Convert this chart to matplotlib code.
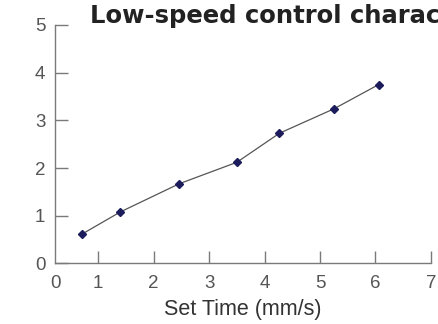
import matplotlib
matplotlib.use("Agg")
import matplotlib.pyplot as plt

# data
set_time = [0.70, 1.40, 2.46, 3.50, 4.27, 5.25, 6.06]
speed = [0.61, 1.08, 1.67, 2.12, 2.73, 3.24, 3.75]
x_ticks = [0.22, 1, 2, 3, 4, 5, 6, 7]
x_labels = ["0", "1", "2", "3", "4", "5", "6", "7"]
y_ticks = [0, 1, 2, 3, 4, 5]

plt.rcParams['font.family'] = ['Liberation Sans', 'DejaVu Sans']

fig = plt.figure(figsize=(4.38, 3.24), dpi=100)
ax = fig.add_axes([0.1256, 0.187, 0.858, 0.736])

ax.plot(set_time, speed, color="#555555", lw=0.9, zorder=2)
ax.plot(set_time, speed, ls="none", marker="D", ms=4.5, color="#1c1c5c",
        mec="#1c1c5c", zorder=3)

ax.set_xlim(0.22, 7)
ax.set_ylim(0, 5)
ax.set_xticks(x_ticks)
ax.set_xticklabels(x_labels)
ax.set_yticks(y_ticks)

for s in ["top", "right"]:
    ax.spines[s].set_visible(False)
for s in ["left", "bottom"]:
    ax.spines[s].set_color("#7a7a7a")
    ax.spines[s].set_linewidth(1.0)

ax.tick_params(axis="both", direction="in", length=9, width=1.0,
               color="#7a7a7a", labelcolor="#555555", labelsize=13.5)
ax.tick_params(axis="x", pad=8.5)
ax.tick_params(axis="y", pad=7)
ax.xaxis.get_major_ticks()[0].tick1line.set_visible(False)

ax.set_xlabel("Set Time (mm/s)", fontsize=15.5, color="#333333", labelpad=5)

# title runs off the right edge, as in the reference
fig.text(0.205, 0.928, "Low-speed control characteristics", fontsize=17.5,
         fontweight="bold", color="#222222", va="baseline", ha="left",
         family="DejaVu Sans")

fig.savefig("out.png", dpi=100)
